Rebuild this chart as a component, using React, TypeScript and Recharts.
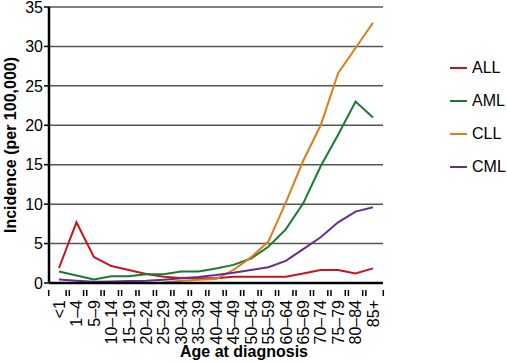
import { CartesianGrid, Legend, Line, LineChart, XAxis, YAxis } from "recharts";

const ageGroups = [
  "<1", "1–4", "5–9", "10–14", "15–19", "20–24", "25–29", "30–34", "35–39", "40–44",
  "45–49", "50–54", "55–59", "60–64", "65–69", "70–74", "75–79", "80–84", "85+",
];

const allValues = [1.9, 7.7, 3.3, 2.15, 1.65, 1.15, 0.8, 0.65, 0.6, 0.6, 0.8, 0.8, 0.8, 0.8, 1.2, 1.65, 1.65, 1.2, 1.85];
const amlValues = [1.45, 0.95, 0.45, 0.85, 0.85, 1.1, 1.1, 1.45, 1.45, 1.85, 2.3, 3.1, 4.6, 6.8, 10.1, 14.8, 18.8, 23.0, 21.0];
const cllValues = [null, null, null, null, null, null, 0.05, 0.3, 0.4, 0.5, 1.65, 3.25, 5.25, 10.2, 15.5, 20.0, 26.6, 29.8, 33.0];
const cmlValues = [0.45, 0.3, 0.15, 0.2, 0.25, 0.3, 0.4, 0.6, 0.75, 1.0, 1.3, 1.65, 2.0, 2.8, 4.3, 5.8, 7.7, 9.05, 9.6];

const yTicks = [0, 5, 10, 15, 20, 25, 30, 35];

const COLORS = {
  ALL: "#c4161c",
  AML: "#1a7a30",
  CLL: "#dc7d18",
  CML: "#6a2c91",
};

const FONT = "'Liberation Sans', Arial, sans-serif";
const HALF_STEP = 10.3;

const data = ageGroups.map((age, i) => ({
  age,
  ALL: allValues[i],
  AML: amlValues[i],
  CLL: cllValues[i],
  CML: cmlValues[i],
}));

function AgeTick(props: any) {
  const { x, y, payload } = props;
  return (
    <g transform={`translate(${x},${y})`}>
      <line x1={-HALF_STEP} x2={-HALF_STEP} y1={-1} y2={5} stroke="#000" strokeWidth={1.5} />
      <line x1={HALF_STEP} x2={HALF_STEP} y1={-1} y2={5} stroke="#000" strokeWidth={1.5} />
      <text
        transform="rotate(-90)"
        x={-9}
        y={0}
        dy="0.36em"
        textAnchor="end"
        fontSize={16}
        fontFamily={FONT}
        fill="#000"
      >
        {payload.value}
      </text>
    </g>
  );
}

function LegendBox({ payload }: any) {
  return (
    <div style={{ fontFamily: FONT, fontSize: 16, color: "#000" }}>
      {(payload || []).map((p: any) => (
        <div key={p.value} style={{ display: "flex", alignItems: "center", height: 33 }}>
          <span style={{ display: "inline-block", width: 17, height: 2, background: p.color, marginRight: 5 }} />
          <span>{p.value}</span>
        </div>
      ))}
    </div>
  );
}

export default function App() {
  return (
    <div style={{ position: "absolute", left: 0, top: 0, background: "#fff" }}>
      <LineChart width={507} height={362} data={data} margin={{ top: 7, right: 67, bottom: 0, left: 0 }}>
        <CartesianGrid horizontal vertical={false} stroke="#555" strokeWidth={1.5} />
        <XAxis
          dataKey="age"
          interval={0}
          height={79}
          padding={{ left: 10, right: 10 }}
          tickLine={false}
          axisLine={{ stroke: "#000", strokeWidth: 2.5 }}
          tick={<AgeTick />}
          label={{
            content: () => (
              <text x={244} y={357} textAnchor="middle" fontSize={16} fontWeight="bold" fontFamily={FONT} fill="#000">
                Age at diagnosis
              </text>
            ),
          }}
        />
        <YAxis
          width={49}
          domain={[0, 35]}
          ticks={yTicks}
          interval={0}
          tickSize={5}
          tickLine={{ stroke: "#000", strokeWidth: 1.5 }}
          axisLine={{ stroke: "#000", strokeWidth: 2.5 }}
          tick={{ fontSize: 16, fill: "#000", fontFamily: FONT }}
          tickMargin={1}
          label={{
            content: () => (
              <text
                x={16}
                y={145}
                transform="rotate(-90 16 145)"
                textAnchor="middle"
                fontSize={16}
                fontWeight="bold"
                fontFamily={FONT}
                fill="#000"
              >
                Incidence (per 100,000)
              </text>
            ),
          }}
        />
        <Legend
          layout="vertical"
          align="right"
          verticalAlign="top"
          content={<LegendBox />}
          wrapperStyle={{ left: 450, top: 51, width: 57 }}
        />
        <Line dataKey="ALL" name="ALL" stroke={COLORS.ALL} strokeWidth={2} dot={false} isAnimationActive={false} />
        <Line dataKey="AML" name="AML" stroke={COLORS.AML} strokeWidth={2} dot={false} isAnimationActive={false} />
        <Line dataKey="CLL" name="CLL" stroke={COLORS.CLL} strokeWidth={2} dot={false} isAnimationActive={false} />
        <Line dataKey="CML" name="CML" stroke={COLORS.CML} strokeWidth={2} dot={false} isAnimationActive={false} />
      </LineChart>
    </div>
  );
}
